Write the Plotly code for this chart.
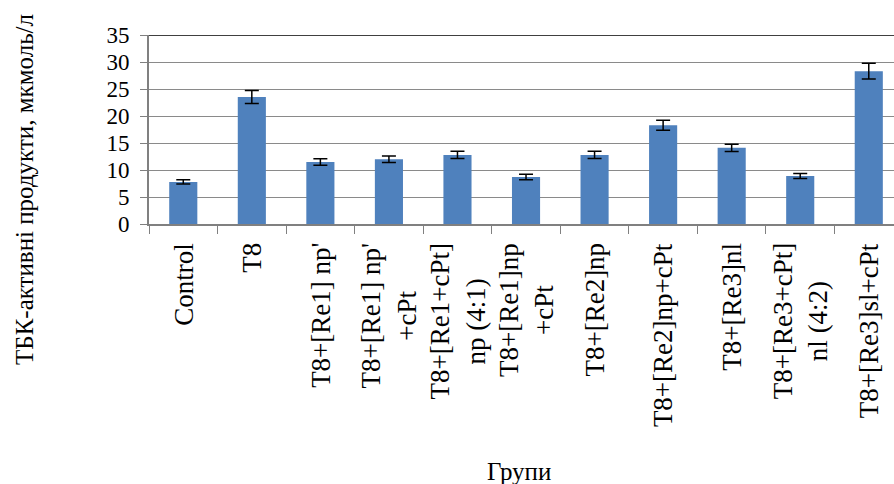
import plotly.graph_objects as go

# Groups, mean TBA-reactive products and their error margins
groups = [
    "Control",
    "T8",
    "T8+[Re1] np'",
    "T8+[Re1] np'<br>+cPt",
    "T8+[Re1+cPt]<br>np (4:1)",
    "T8+[Re1]np<br>+cPt",
    "T8+[Re2]np",
    "T8+[Re2]np+cPt",
    "T8+[Re3]nl",
    "T8+[Re3+cPt]<br>nl (4:2)",
    "T8+[Re3]sl+cPt",
]
values = [7.8, 23.5, 11.5, 12.0, 12.8, 8.7, 12.8, 18.3, 14.1, 8.9, 28.3]
errors = [0.4, 1.2, 0.6, 0.6, 0.68, 0.49, 0.65, 0.93, 0.69, 0.46, 1.45]
y_ticks = [0, 5, 10, 15, 20, 25, 30, 35]

SERIF = "Liberation Serif"
GRID = "#8a8a8a"
AXIS = "#808080"

fig = go.Figure()
fig.add_trace(go.Bar(
    x=list(range(len(groups))),
    y=values,
    width=0.41,
    marker=dict(color="#4F81BD", line=dict(width=0)),
    error_y=dict(type="data", array=errors, visible=True,
                 color="black", thickness=1.5, width=7),
    showlegend=False,
))

# Category labels: rotated, lines centred within each label block
annotations = []
for i, g in enumerate(groups):
    annotations.append(dict(
        x=i, xref="x", y=0, yref="paper",
        text=g, textangle=-90, showarrow=False,
        xanchor="center", yanchor="top", align="center",
        yshift=-17,
        font=dict(family=SERIF, size=27, color="black"),
    ))

# Axis titles
annotations.append(dict(
    x=0, xref="paper", xshift=-124, y=0.18, yref="paper",
    text="ТБК-активні продукти, мкмоль/л", textangle=-90, showarrow=False,
    xanchor="center", yanchor="middle",
    font=dict(family=SERIF, size=25, color="black"),
))
annotations.append(dict(
    x=0.496, xref="paper", y=0, yref="paper", yshift=-247,
    text="Групи", showarrow=False,
    xanchor="center", yanchor="middle",
    font=dict(family=SERIF, size=25, color="black"),
))

fig.update_layout(
    width=894, height=484,
    margin=dict(l=149, r=0, t=35, b=260),
    paper_bgcolor="white", plot_bgcolor="white",
    font=dict(family=SERIF),
    annotations=annotations,
    shapes=[dict(type="line", xref="paper", x0=0, x1=1, yref="y", y0=35, y1=35,
                 line=dict(color="black", width=1.3), layer="above")],
)

fig.update_xaxes(
    type="linear", range=[-0.5, 10.368],
    showticklabels=False, showgrid=False, zeroline=False,
    tickmode="array", tickvals=[i - 0.5 for i in range(len(groups))],
    ticks="outside", ticklen=8, tickcolor=AXIS, tickwidth=1.3,
    showline=True, linecolor=AXIS, linewidth=2,
)
fig.update_yaxes(
    range=[0, 35], tickmode="array", tickvals=y_ticks,
    ticktext=[str(v) for v in y_ticks],
    showgrid=True, gridcolor=GRID, gridwidth=1.3, zeroline=False,
    ticks="outside", ticklen=7, tickcolor=AXIS, tickwidth=1.3,
    showline=True, linecolor=AXIS, linewidth=2,
    tickfont=dict(family=SERIF, size=23, color="black"),
    ticklabelstandoff=6,
)

fig.write_html("out.html")
